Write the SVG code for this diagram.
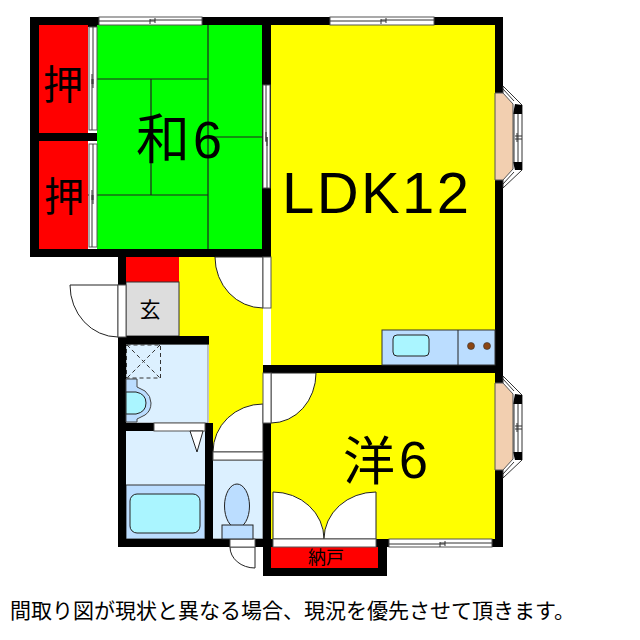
<svg xmlns="http://www.w3.org/2000/svg" width="640" height="640" viewBox="0 0 640 640">
<style>
.w{fill:#000}
.o{fill:#fff;stroke:#555;stroke-width:1}
.l{fill:none;stroke:#333;stroke-width:1}
.t{stroke:#222;stroke-width:1.2;fill:none}
.a{fill:#fff;stroke:#222;stroke-width:1}
.f{stroke:#222;stroke-width:1}
.j{font-family:"Noto Sans CJK JP",sans-serif;fill:#000}
.s{font-family:"Liberation Sans",Arial,"Noto Sans CJK JP",sans-serif;fill:#000}
</style>
<rect width="640" height="640" fill="#fff"/>
<g id="floors">
<rect x="39" y="25" width="49" height="108" fill="#f00"/>
<rect x="39" y="141" width="49" height="108" fill="#f00"/>
<rect x="97" y="25" width="165" height="224" fill="#0f0"/>
<rect x="271" y="25" width="224" height="340" fill="#ff0"/>
<rect x="271" y="373" width="224" height="166" fill="#ff0"/>
<path d="M179 257H263V460H209V345H179Z" fill="#ff0"/>
<rect x="126" y="257" width="53" height="25" fill="#f00"/>
<rect x="126" y="282" width="53" height="54" fill="#ddd" stroke="#333"/>
<rect x="126" y="344" width="82" height="79" fill="#dcf0ff" stroke="#888"/>
<rect x="126" y="431" width="79" height="108" fill="#dcf0ff"/>
<rect x="126" y="485" width="79" height="54" fill="#bbddff" stroke="#333"/>
<rect x="212" y="460" width="51" height="79" fill="#dcf0ff" stroke="#555"/>
<rect x="271" y="547" width="107" height="21" fill="#f00"/>
</g>
<g id="tatami" class="t">
<path d="M208 25V249M97 79H208M151 79V195M88 195H208M208 137H262"/>
</g>
<g id="walls" class="w">
<rect x="30" y="17" width="473" height="8"/>
<rect x="30" y="17" width="9" height="240"/>
<rect x="30" y="133" width="67" height="8"/>
<rect x="30" y="249" width="241" height="8"/>
<rect x="88" y="25" width="9" height="2"/>
<rect x="262" y="17" width="9" height="291"/>
<rect x="495" y="17" width="8" height="530"/>
<rect x="263" y="365" width="240" height="8"/>
<rect x="263" y="365" width="8" height="211"/>
<rect x="118" y="257" width="8" height="290"/>
<rect x="118" y="336" width="91" height="8.500"/>
<rect x="118" y="423" width="36" height="8"/>
<rect x="205" y="423" width="8" height="124"/>
<rect x="118" y="539" width="145" height="8"/>
<rect x="263" y="539" width="124" height="8"/>
<rect x="263" y="568" width="124" height="8"/>
<rect x="378" y="539" width="9" height="37"/>
<rect x="387" y="539" width="116" height="8"/>
</g>
<g id="doors">
<path class="a" d="M118 285H70A48 52 0 0 0 118 337Z"/>
<path class="a" d="M215 257A48 51 0 0 0 263 308V257Z"/>
<path class="a" d="M213 452A50 48 0 0 1 263 404V452Z"/>
<path class="a" d="M271 423A45 50 0 0 0 316 373H271Z"/>
<path class="a" d="M273 492A51 47 0 0 1 324 539H273Z"/>
<path class="a" d="M376 492A52 47 0 0 0 324 539H376Z"/>
<path class="a" d="M230 547A25 21 0 0 0 255 568V547Z"/>
<rect class="o" x="118" y="285" width="8" height="52"/>
<rect class="o" x="263" y="257" width="8" height="51"/>
<rect class="o" x="263" y="373" width="8" height="50"/>
<rect class="o" x="213" y="452" width="50" height="8"/>
<rect class="o" x="273" y="539" width="103" height="8"/>
<rect class="o" x="230" y="539" width="25" height="8"/>
<rect class="o" x="154" y="423" width="51" height="8"/>
</g>
<g id="windows">
<rect class="o" x="99" y="17" width="103" height="8"/>
<path class="l" d="M99 21H155M150 20H202M155 18V23M150 19V24"/>
<rect class="o" x="330" y="17" width="104" height="8"/>
<path class="l" d="M330 21H386M381 20H434M386 18V23M381 19V24"/>
<rect class="o" x="389" y="539" width="103" height="8"/>
<path class="l" d="M389 544H445M440 543H492M445 541V546M440 542V547"/>
<rect class="o" x="89" y="27" width="8" height="103"/>
<path class="l" d="M93 27V84M92 79V130M92 74V84M93 79V88"/>
<rect class="o" x="89" y="144" width="8" height="103"/>
<path class="l" d="M93 144V200M92 195V247M92 190V200M93 195V204"/>
<rect class="o" x="263" y="85" width="7" height="103"/>
<path class="l" d="M266 85V141M267 137V188M266 132V142M267 137V146"/>
</g>
<g id="bays">
<g id="bay-upper">
<path d="M503 86L522 105V170L503 188Z" fill="#fff" stroke="#333"/>
<path d="M515 104L522 105V114H513Z M513 162H522V170L515 170Z" fill="#000"/>
<path d="M495 93H503L513 104V169L503 180H495Z" fill="#f2cfb0" stroke="#555"/>
<path d="M503 89L514 101M503 184L514 172" class="l"/>
<path class="l" d="M514 114V162M518 114V162M515 136H522M515 139H522M517 133V142"/>
</g>
<g id="bay-lower" transform="translate(0 290)">
<path d="M503 86L522 105V170L503 188Z" fill="#fff" stroke="#333"/>
<path d="M515 104L522 105V114H513Z M513 162H522V170L515 170Z" fill="#000"/>
<path d="M495 93H503L513 104V169L503 180H495Z" fill="#f2cfb0" stroke="#555"/>
<path d="M503 89L514 101M503 184L514 172" class="l"/>
<path class="l" d="M514 114V162M518 114V162M515 136H522M515 139H522M517 133V142"/>
</g>
</g>
<g id="fixtures">
<rect x="382" y="330" width="113" height="35" fill="#bbddff" stroke="#333"/>
<path class="f" d="M458 330V365"/>
<rect x="393" y="335" width="36" height="21" rx="4" fill="#aaf5ff" stroke="#222"/>
<circle cx="471" cy="346" r="3.500" fill="#8b4513" stroke="#333" stroke-width=".6"/>
<circle cx="487" cy="346" r="3.500" fill="#8b4513" stroke="#333" stroke-width=".6"/>
<path d="M126 379H137V387L145 391Q151 396 151 403Q151 411 145 415L137 419V422H126Z" fill="#bbddff" stroke="#444"/>
<path d="M126 392H136Q146 394 146 403Q146 412 136 414H126Z" fill="#aaf5ff" stroke="#222"/>
<rect x="126.500" y="345" width="34" height="33" fill="none" stroke="#333" stroke-dasharray="4 3"/>
<path d="M127 345L160 378M160 345L127 378" fill="none" stroke="#333" stroke-dasharray="4 3"/>
<path class="a" d="M190 431H203L197 452Z"/>
<rect x="130" y="494" width="70" height="39" rx="7" fill="#aaf5ff" stroke="#222"/>
<ellipse cx="237" cy="506" rx="12.500" ry="22" fill="#bbddff" stroke="#222"/>
<rect x="222" y="525" width="31" height="14" fill="#bbddff" stroke="#222"/>
</g>
<g id="labels">
<text class="j" x="63" y="99" font-size="40" text-anchor="middle">押</text>
<text class="j" x="64" y="211" font-size="40" text-anchor="middle">押</text>
<text class="j" x="163" y="159" font-size="54" text-anchor="middle">和</text>
<text class="s" x="193" y="158" font-size="52">6</text>
<text class="s" x="282" y="213" font-size="58" textLength="187" lengthAdjust="spacing">LDK12</text>
<text class="j" x="369" y="480" font-size="52" text-anchor="middle">洋</text>
<text class="s" x="399" y="478" font-size="52">6</text>
<text class="j" x="150" y="317" font-size="21" text-anchor="middle">玄</text>
<text class="j" x="326" y="564" font-size="18" text-anchor="middle">納戸</text>
<text class="j" x="10" y="618" font-size="21">間取り図が現状と異なる場合、現況を優先させて頂きます。</text>
</g>
</svg>
